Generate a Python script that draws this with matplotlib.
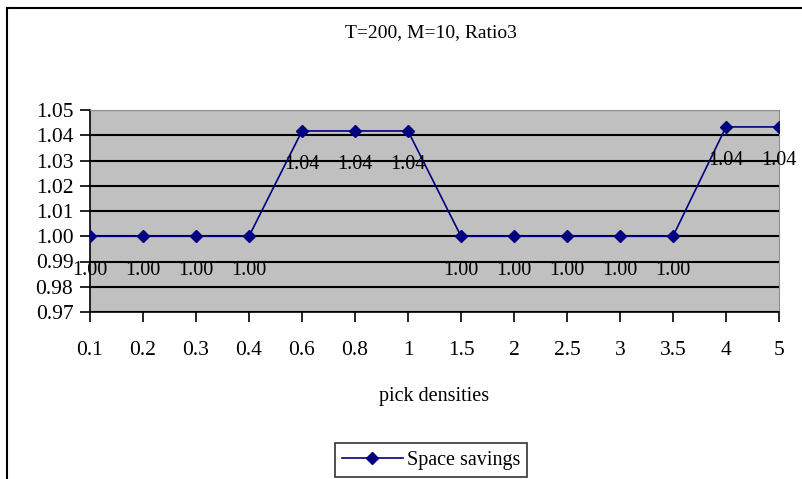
import matplotlib.pyplot as plt
from matplotlib.lines import Line2D

# pick densities on the category axis and the space saving at each one
densities = ['0.1', '0.2', '0.3', '0.4', '0.6', '0.8', '1', '1.5', '2', '2.5', '3', '3.5', '4', '5']
savings = [1.00, 1.00, 1.00, 1.00, 1.0417, 1.0417, 1.0417, 1.00, 1.00, 1.00, 1.00, 1.00, 1.0433, 1.0433]
yticks = [0.97, 0.98, 0.99, 1.00, 1.01, 1.02, 1.03, 1.04, 1.05]

plt.rcParams['font.family'] = ['Liberation Serif', 'DejaVu Serif']
W, H = 803, 479
fig = plt.figure(figsize=(W / 100, H / 100), dpi=100)

# outer chart border (left and top visible in the reference)
fig.add_artist(Line2D([7 / W, 7 / W], [0, 1 - 8 / H], color='black', lw=1.5))
fig.add_artist(Line2D([7 / W, 1], [1 - 8 / H, 1 - 8 / H], color='black', lw=1.5))

ax = fig.add_axes([90 / W, (H - 312) / H, 689 / W, 202 / H])
ax.set_facecolor('#c0c0c0')
x = list(range(len(densities)))
ax.plot(x, savings, color='#000080', marker='D', markersize=6, lw=1.2, label='Space savings', zorder=3)
for xi, v in zip(x, savings):
    ax.annotate('%.2f' % v, (xi, v), xytext=(0, -34), textcoords='offset pixels',
                ha='center', va='center', fontsize=14.5)

ax.set_xlim(0, len(densities) - 1)
ax.set_ylim(0.97, 1.05)
ax.set_yticks(yticks)
ax.set_yticklabels(['%.2f' % t for t in yticks])
ax.set_xticks(x)
ax.set_xticklabels(densities)
ax.grid(axis='y', color='black', lw=1.5)
ax.set_axisbelow(True)
ax.tick_params(axis='both', labelsize=15.5, length=7, width=1.2, color='black')
ax.tick_params(axis='x', pad=14)
ax.tick_params(axis='y', pad=5)
for side in ['top', 'right']:
    ax.spines[side].set_color('#909090')
ax.spines['left'].set_linewidth(1.2)
ax.spines['bottom'].set_linewidth(1.2)
ax.set_xlabel('pick densities', fontsize=14.5, labelpad=19)

fig.text(431 / W, 1 - 33 / H, 'T=200, M=10, Ratio3', ha='center', va='center', fontsize=14)

leg = fig.legend(loc='center', bbox_to_anchor=(431 / W, 1 - 460 / H), fontsize=14.5,
                 frameon=True, fancybox=False, handlelength=3, borderpad=0.35,
                 handletextpad=0.2)
leg.get_frame().set_edgecolor('black')
leg.get_frame().set_linewidth(1.2)

fig.savefig('out.png', dpi=100)
